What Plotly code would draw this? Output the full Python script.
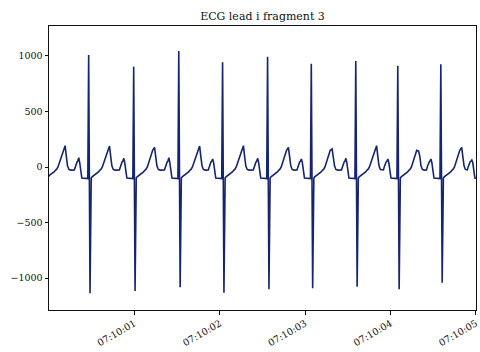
import plotly.graph_objects as go
from datetime import datetime, timedelta

chart_title = "ECG lead i fragment 3"
fragment_start = datetime(2000, 1, 1, 7, 10, 0)
fragment_length = 5.0  # seconds

# R-peak times (s after 07:10:00) and QRS extremes
r_times = [0.4645, 0.992, 1.520, 2.033, 2.560, 3.072, 3.593, 4.085, 4.589]
r_peaks = [1009, 904, 1045, 943, 994, 930, 955, 913, 925]
s_troughs = [-1138, -1117, -1084, -1132, -1102, -1093, -1078, -1102, -1042]
# neighbouring beats just outside the fragment
prev_r_time = -0.055
next_r_time = 5.068
# T wave after each R (first entry belongs to the beat before the fragment)
t_peaks = [192, 189, 177, 189, 192, 177, 162, 192, 144, 177]
# P wave before each R (last entry belongs to the beat after the fragment)
p_peaks = [84, 78, 84, 72, 78, 72, 78, 72, 72, 63]

# beat morphology: offsets (s) from the R peak and levels
s_offset = 0.016
st_offsets = [0.03, 0.04, 0.055, 0.07, 0.085, 0.1, 0.115, 0.13, 0.145, 0.16, 0.18, 0.2, 0.222]
st_levels = [-100, -88, -80, -68, -62, -50, -44, -30, -20, 0, 45, 100, 150]
t_offset = 0.244
t_tail_offsets = [0.258, 0.272, 0.288, 0.31]
t_tail_levels = [95, 10, -22, -28]
p_lead_offsets = [-0.168, -0.155, -0.145, -0.136, -0.128]
p_lead_levels = [-26, 10, 40, 46, 52]
p_offset = -0.116
p_tail_offsets = [-0.105, -0.092, -0.08, -0.01]
p_tail_levels = [40, -40, -100, -104]

t_sec, values = [], []
r_all = [prev_r_time] + r_times + [next_r_time]
for k in range(len(r_all) - 1):
    r0, r1 = r_all[k], r_all[k + 1]
    if k > 0:
        t_sec += [r0, r0 + s_offset]
        values += [r_peaks[k - 1], s_troughs[k - 1]]
    t_sec += [r0 + d for d in st_offsets]
    values += st_levels
    t_sec.append(r0 + t_offset)
    values.append(t_peaks[k])
    t_sec += [r0 + d for d in t_tail_offsets]
    values += t_tail_levels
    t_sec += [r1 + d for d in p_lead_offsets]
    values += p_lead_levels
    t_sec.append(r1 + p_offset)
    values.append(p_peaks[k])
    t_sec += [r1 + d for d in p_tail_offsets]
    values += p_tail_levels

timestamps = [fragment_start + timedelta(seconds=s) for s in t_sec]
x_ticks = [fragment_start + timedelta(seconds=s) for s in [1, 2, 3, 4, 5]]
y_ticks = [-1000, -500, 0, 500, 1000]

fig = go.Figure(
    go.Scatter(
        x=timestamps,
        y=values,
        mode="lines",
        line=dict(color="#15256e", width=1.6),
        hoverinfo="skip",
    )
)

font_family = "DejaVu Serif"
axis_common = dict(
    showgrid=False,
    zeroline=False,
    showline=True,
    mirror=True,
    linecolor="#111111",
    linewidth=1,
    ticks="outside",
    ticklen=3.5,
    tickwidth=0.8,
    tickcolor="#111111",
    ticklabeloverflow="allow",
    tickfont=dict(family=font_family, size=9.5, color="#111111"),
)

fig.update_layout(
    width=480,
    height=352,
    margin=dict(l=49, r=1, t=26, b=42),
    paper_bgcolor="white",
    plot_bgcolor="white",
    showlegend=False,
    title=dict(
        text=chart_title,
        font=dict(family=font_family, size=11, color="#111111"),
        xref="paper",
        x=0.5,
        xanchor="center",
        yref="container",
        y=1 - 16.5 / 352,
        yanchor="middle",
    ),
    xaxis=dict(
        type="date",
        range=[fragment_start, fragment_start + timedelta(seconds=fragment_length + 0.001)],
        tickvals=x_ticks,
        tickformat="%H:%M:%S",
        tickangle=-30,
        **axis_common,
    ),
    yaxis=dict(
        range=[-1288, 1270],
        tickvals=y_ticks,
        **axis_common,
    ),
)

fig.write_html("out.html")
